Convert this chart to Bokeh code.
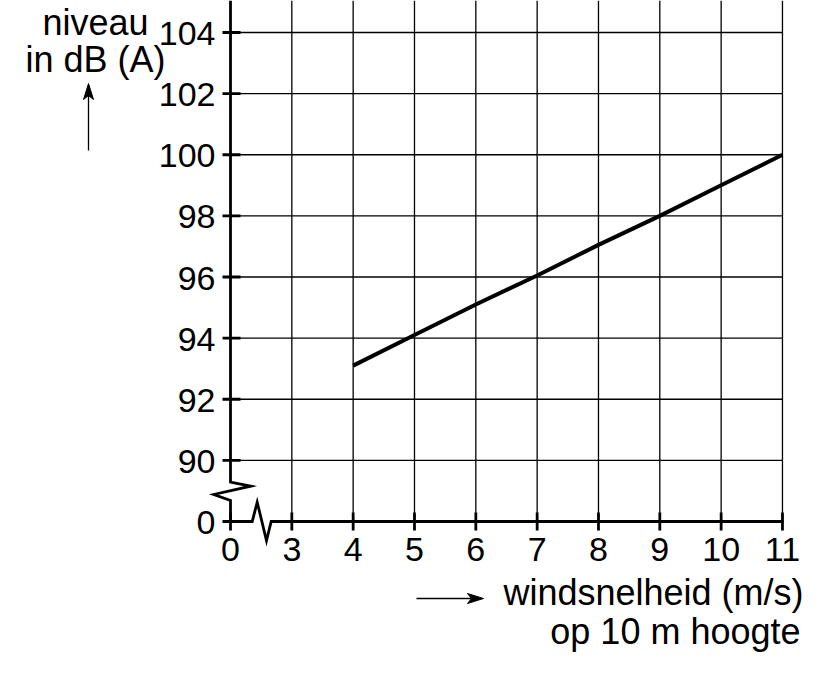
from bokeh.plotting import figure
from bokeh.core.properties import value
from bokeh.embed import file_html
from bokeh.resources import INLINE

# values
wind = [4, 5, 6, 7, 8, 9, 10, 11]
level = [93.1, 94.1, 95.1, 96.05, 97.05, 98.0, 99.0, 100.0]

# x = 2 stands for the broken-off 0 of the axis, y = 88 likewise
x_ticks = [2, 3, 4, 5, 6, 7, 8, 9, 10, 11]
x_labels = ["0", "3", "4", "5", "6", "7", "8", "9", "10", "11"]
y_ticks = [88, 90, 92, 94, 96, 98, 100, 102, 104]
y_labels = ["0", "90", "92", "94", "96", "98", "100", "102", "104"]

x_title = "windsnelheid (m/s)"
x_title2 = "op 10 m hoogte"
y_title = "niveau"
y_title2 = "in dB (A)"

# layout in pixels
W, H = 820, 668
PX_X = 61.33      # pixels per m/s
PX_Y = 30.5625    # pixels per dB
X0, Y0 = 230, 521  # where the axes cross, figure pixels from top-left
XA, YA = x_ticks[0], y_ticks[0]
XE = x_ticks[-1]
FIX = 11.5        # svg text sits this much lower than asked, pull it up

x_start = XA - X0 / PX_X
x_end = x_start + W / PX_X
y_end = YA + Y0 / PX_Y
y_start = y_end - H / PX_Y


def dx(px):
    return px / PX_X


def dy(px):
    return px / PX_Y


FONT = value("Liberation Sans")

p = figure(width=W, height=H, x_range=(x_start, x_end), y_range=(y_start, y_end),
           x_axis_location=None, y_axis_location=None, toolbar_location=None,
           output_backend="svg", min_border=0)
p.outline_line_color = None
p.xgrid.visible = False
p.ygrid.visible = False

# grid
vx = x_ticks[1:]
p.segment(x0=vx, y0=[YA] * len(vx), x1=vx, y1=[y_end] * len(vx),
          line_color="black", line_width=1.3)
hy = y_ticks[1:]
p.segment(x0=[XA] * len(hy), y0=hy, x1=[XE] * len(hy), y1=hy,
          line_color="black", line_width=1.3)

# y axis with break
p.line([XA, XA, XA + dx(20), XA - dx(16.7), XA, XA],
       [y_end, YA + dy(39.3), YA + dy(35.3), YA + dy(27), YA + dy(21), YA],
       line_color="black", line_width=2.8, line_join="miter")
# x axis with break
p.line([XA, XA + dx(21.7), XA + dx(26.7), XA + dx(36), XA + dx(40.7), XE + dx(1)],
       [YA, YA, YA + dy(19.3), YA - dy(19), YA, YA],
       line_color="black", line_width=2.8, line_join="miter")

# ticks
p.segment(x0=[XA - dx(8)] * len(y_ticks), y0=y_ticks,
          x1=[XA + dx(10)] * len(y_ticks), y1=y_ticks,
          line_color="black", line_width=2.8)
p.segment(x0=x_ticks, y0=[YA - dy(9)] * len(x_ticks),
          x1=x_ticks, y1=[YA + dy(9)] * len(x_ticks),
          line_color="black", line_width=2.8)

# tick labels
p.text(x=[XA - dx(15)] * len(y_ticks), y=[t - dy(12.5 - FIX) for t in y_ticks],
       text=y_labels, text_align="right", text_baseline="alphabetic", text_font=FONT,
       text_font_size=value("34px"), text_color="black")
p.text(x=x_ticks, y=[YA - dy(39 - FIX)] * len(x_ticks), text=x_labels,
       text_align="center", text_baseline="alphabetic", text_font=FONT,
       text_font_size=value("34px"), text_color="black")

# the data line
p.line(wind, level, line_color="black", line_width=4)

# axis titles
p.text(x=[XA - dx(135)] * 2, y=[YA + dy(488 + FIX), YA + dy(451 + FIX)],
       text=[y_title, y_title2],
       text_align="center", text_baseline="alphabetic", text_font=FONT,
       text_font_size=value("36px"), text_color="black")
p.text(x=[XA + dx(573), XA + dx(570)], y=[YA - dy(82 - FIX), YA - dy(121 - FIX)],
       text=[x_title, x_title2],
       text_align="right", text_baseline="alphabetic", text_font=FONT,
       text_font_size=value("36px"), text_color="black")

# arrows next to the titles
ax = XA - dx(142)
p.line([ax, ax], [YA + dy(371), YA + dy(428)], line_color="black", line_width=1.3)
p.patch([ax, ax + dx(5), ax, ax - dx(5)],
        [YA + dy(438), YA + dy(422), YA + dy(426), YA + dy(422)],
        fill_color="black", line_color="black", line_width=1)
ay = YA - dy(77)
p.line([XA + dx(186), XA + dx(243)], [ay, ay], line_color="black", line_width=1.3)
p.patch([XA + dx(253), XA + dx(237), XA + dx(241), XA + dx(237)],
        [ay, ay + dy(5), ay, ay - dy(5)],
        fill_color="black", line_color="black", line_width=1)

open("out.html", "w").write(file_html(p, INLINE))
